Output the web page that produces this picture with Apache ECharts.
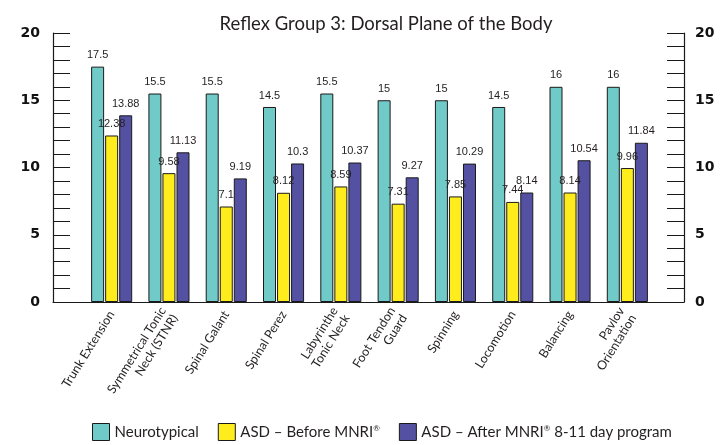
<!DOCTYPE html>
<html>
<head>
<meta charset="utf-8">
<script src="https://cdn.jsdelivr.net/npm/echarts@6/dist/echarts.min.js"></script>
<style>
  html, body { margin: 0; padding: 0; background: #fff; }
  #chart { width: 726px; height: 445px; }
</style>
</head>
<body>
<div id="chart"></div>
<script>
const categories = [
  'Trunk Extension', 'Symmetrical Tonic\nNeck (STNR)', 'Spinal Galant', 'Spinal Perez',
  'Labyrinthe\nTonic Neck', 'Foot Tendon\nGuard', 'Spinning', 'Locomotion',
  'Balancing', 'Pavlov\nOrientation'
];
const neurotypical = [17.5, 15.5, 15.5, 14.5, 15.5, 15, 15, 14.5, 16, 16];
const beforeMnri = [12.38, 9.58, 7.1, 8.12, 8.59, 7.31, 7.85, 7.44, 8.14, 9.96];
const afterMnri = [13.88, 11.13, 9.19, 10.3, 10.37, 9.27, 10.29, 8.14, 10.54, 11.84];
const yTicks = [0, 5, 10, 15, 20];

const myChart = echarts.init(document.getElementById('chart'));

// common look of the value labels above each bar
const valueLabel = {
  show: true,
  position: 'top',
  distance: 6,
  fontFamily: '"Liberation Sans Narrow", "Liberation Sans", sans-serif',
  fontSize: 11,
  color: '#231f20'
};

function barSeries(name, data, color) {
  return {
    name: name,
    type: 'bar',
    xAxisIndex: 1,
    yAxisIndex: 2,
    data: data,
    barWidth: 13,
    barGap: '8%',
    itemStyle: { color: color, borderColor: '#1a1a1a', borderWidth: 1 },
    label: valueLabel
  };
}

// y axis with inward ticks every unit, labels only on the 5s
function frameAxis(pos) {
  return {
    type: 'value',
    gridIndex: 0,
    position: pos,
    min: 0,
    max: 20,
    interval: 1,
    axisLine: { show: true, lineStyle: { color: '#1a1a1a', width: 1.2 } },
    axisTick: { show: true, inside: true, length: 17, lineStyle: { color: '#1a1a1a' } },
    axisLabel: {
      margin: pos === 'left' ? 13 : 11,
      fontFamily: '"DejaVu Sans", sans-serif',
      fontWeight: 'bold',
      fontSize: 14,
      color: '#111',
      formatter: v => (yTicks.indexOf(v) >= 0 ? String(v) : '')
    },
    splitLine: { show: false }
  };
}

const option = {
  animation: false,
  backgroundColor: '#fff',
  title: {
    text: 'Reflex Group 3: Dorsal Plane of the Body',
    left: 381,
    top: 10,
    textAlign: 'center',
    textStyle: {
      fontFamily: 'Lato, "Noto Sans", sans-serif',
      fontWeight: 'normal',
      fontSize: 18.5,
      color: '#231f20'
    }
  },
  legend: {
    bottom: -1,
    left: 87,
    itemWidth: 17,
    itemHeight: 17,
    itemGap: 19,
    icon: 'rect',
    itemStyle: { borderColor: '#1a1a1a', borderWidth: 1 },
    textStyle: {
      fontFamily: 'Lato, "Noto Sans", sans-serif',
      fontSize: 15,
      color: '#231f20',
      rich: {
        sup: { fontSize: 8, verticalAlign: 'top', padding: [0, 0, 8, 0], fontFamily: 'Lato, sans-serif', color: '#231f20' }
      }
    },
    formatter: name => name.replace('®', '{sup|®}')
  },
  grid: [
    { left: 53, right: 42, top: 33, bottom: 143 },
    { left: 83, right: 70, top: 33, bottom: 143 }
  ],
  xAxis: [
    {
      type: 'category',
      gridIndex: 0,
      data: [''],
      axisLine: { show: true, lineStyle: { color: '#1a1a1a', width: 1.2 } },
      axisTick: { show: false },
      axisLabel: { show: false }
    },
    {
      type: 'category',
      gridIndex: 1,
      data: categories,
      axisLine: { show: false },
      axisTick: { show: false },
      axisLabel: {
        rotate: 58,
        margin: 10,
        interval: 0,
        fontFamily: 'Lato, "Noto Sans", sans-serif',
        fontSize: 12.5,
        lineHeight: 14,
        color: '#231f20'
      }
    }
  ],
  yAxis: [
    frameAxis('left'),
    frameAxis('right'),
    { type: 'value', gridIndex: 1, min: 0, max: 20, show: false }
  ],
  series: [
    barSeries('Neurotypical', neurotypical, '#70cac7'),
    barSeries('ASD – Before MNRI®', beforeMnri, '#ffec1c'),
    barSeries('ASD – After MNRI® 8-11 day program', afterMnri, '#5451a2')
  ]
};

myChart.setOption(option);
</script>
</body>
</html>
